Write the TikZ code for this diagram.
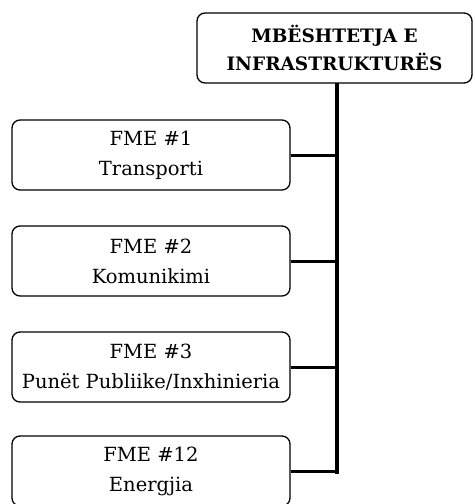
\documentclass[tikz,border=0pt]{standalone}
\usepackage{fontspec}
\setmainfont{DejaVu Serif}
\begin{document}
\begin{tikzpicture}[x=1pt,y=-1pt,
  fmebox/.style={draw,line width=1.3pt,rounded corners=8pt,minimum width=278pt,minimum height=70pt,inner sep=0pt,align=center,font=\fontsize{19.5}{30}\selectfont},
  topbox/.style={draw,line width=1.3pt,rounded corners=8pt,minimum width=275pt,minimum height=70pt,inner sep=0pt,align=center,font=\fontsize{18.5}{28}\selectfont\bfseries},
  trunk/.style={line width=4pt},
  branch/.style={line width=3pt}]
\clip (0,0) rectangle (474,504);
\fill[white] (0,0) rectangle (474,504);
\node[topbox] (top) at (334.5,48) {MBËSHTETJA E\\INFRASTRUKTURËS};
\node[fmebox] (f1) at (151,155) {FME \#1\\Transporti};
\node[fmebox] (f2) at (151,261) {FME \#2\\Komunikimi};
\node[fmebox] (f3) at (151,367) {FME \#3\\Punët Publiike/Inxhinieria};
\node[fmebox] (f4) at (151,471) {FME \#12\\Energjia};
\coordinate (tb) at (337,83);
\coordinate (bend) at (337,474);
\draw[trunk] (tb) -- (bend);
\draw[branch] (f1.east) -- (f1.east -| tb);
\draw[branch] (f2.east) -- (f2.east -| tb);
\draw[branch] (f3.east) -- (f3.east -| tb);
\draw[branch] (f4.east) -- (f4.east -| tb);
\end{tikzpicture}
\end{document}
